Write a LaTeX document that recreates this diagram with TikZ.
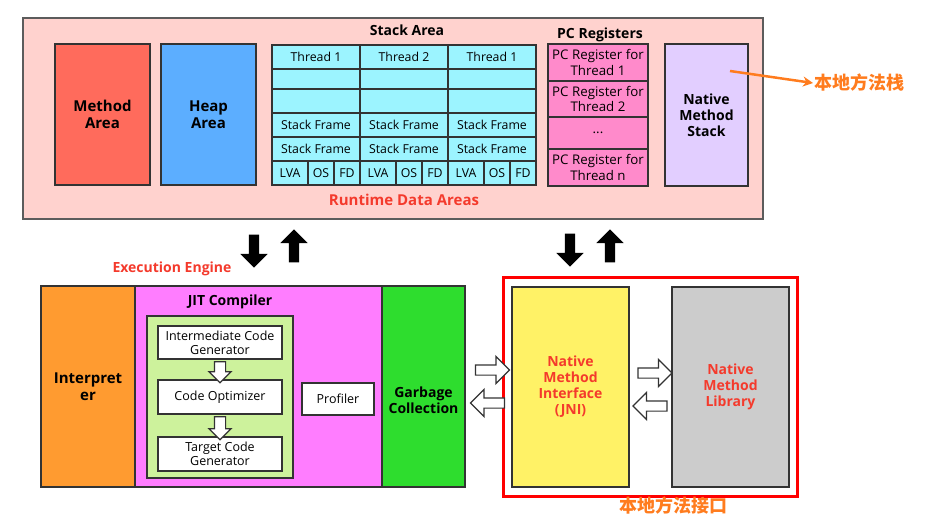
\documentclass[tikz,border=0pt]{standalone}
\usepackage{fontspec}
\setmainfont{Open Sans}
\newfontfamily\cjk{Noto Sans CJK SC}
\usepackage{tikz}
\usetikzlibrary{arrows.meta}
\usetikzlibrary{shapes.arrows}
\definecolor{rdabg}{HTML}{FFD2CE}
\definecolor{methodc}{HTML}{FF6B5C}
\definecolor{heapc}{HTML}{5CAEFF}
\definecolor{stkcyan}{HTML}{9CF4FF}
\definecolor{pcpink}{HTML}{FF8ACB}
\definecolor{nmsc}{HTML}{E2CEFF}
\definecolor{interc}{HTML}{FF9B30}
\definecolor{jitc}{HTML}{FF7DFF}
\definecolor{optgreen}{HTML}{CDF29C}
\definecolor{gcc}{HTML}{2EDD2E}
\definecolor{jnic}{HTML}{FFF266}
\definecolor{libc}{HTML}{CCCCCC}
\definecolor{redtxt}{HTML}{F43A2C}
\definecolor{orangetxt}{HTML}{FF7C1E}
\definecolor{edgec}{HTML}{333333}

\begin{document}
\begin{tikzpicture}[x=1pt,y=-1pt,inner sep=1pt]
\tikzstyle{blk}=[rectangle,draw=edgec,line width=1.5pt,align=center,font=\bfseries\fontsize{15}{17.5}\selectfont]
\tikzstyle{cell}=[rectangle,draw=edgec,line width=1.5pt,fill=stkcyan,inner sep=0pt,font=\fontsize{12.3}{13.5}\selectfont]
\tikzstyle{pcreg}=[cell,fill=pcpink,align=center,minimum width=100,font=\fontsize{13.3}{15.5}\selectfont]
\tikzstyle{wbox}=[rectangle,draw=edgec,line width=1.5pt,fill=white,align=center,font=\fontsize{12.5}{14}\selectfont]
\tikzstyle{ttl}=[font=\bfseries\fontsize{14}{16}\selectfont]
\tikzstyle{bigarr}=[single arrow,fill=black,inner sep=5pt,minimum height=33,single arrow head extend=8.5]
\tikzstyle{hollow}=[single arrow,draw=edgec,line width=1.2pt,fill=white,inner sep=4.5pt,minimum height=34,single arrow head extend=8.5]
\useasboundingbox (0,0) rectangle (950,528);

% runtime data areas
\node[blk,draw=edgec!80,fill=rdabg,minimum width=740,minimum height=201] (rda) at (393,118.5) {};
\node[blk,fill=methodc,minimum width=95,minimum height=141] (method) at (102.5,114.5) {Method\\Area};
\node[blk,fill=heapc,minimum width=95,minimum height=141] (heap) at (208.5,114.5) {Heap\\Area};
\node[ttl] (stktl) at (407,30) {Stack Area};
\foreach \c/\t in {0/Thread 1,1/Thread 2,2/Thread 1}{
  \pgfmathsetmacro\xc{316+88*\c}
  \node[cell,minimum width=88,minimum height=24] (thr\c) at (\xc,57) {\t};
  \node[cell,minimum width=88,minimum height=20] (ema\c) at (\xc,79) {};
  \node[cell,minimum width=88,minimum height=24] (emb\c) at (\xc,101) {};
  \node[cell,minimum width=88,minimum height=24] (sfa\c) at (\xc,125) {Stack Frame};
  \node[cell,minimum width=88,minimum height=24] (sfb\c) at (\xc,149) {Stack Frame};
  \node[cell,minimum width=36,minimum height=24] (lva\c) at (\xc-26,173) {LVA};
  \node[cell,minimum width=26,minimum height=24] (os\c) at (\xc+5,173) {OS};
  \node[cell,minimum width=26,minimum height=24] (fd\c) at (\xc+31,173) {FD};
}
\node[ttl,text=redtxt,font=\bfseries\fontsize{15}{17}\selectfont] (rdatl) at (404,200) {Runtime Data Areas};
\node[ttl] (pctl) at (600,35) {PC Registers};
\node[pcreg,minimum height=37] (pc1) at (598,62.5) {PC Register for\\Thread 1};
\node[pcreg,minimum height=36] (pc2) at (598,99) {PC Register for\\Thread 2};
\node[pcreg,minimum height=32] (pc3) at (598,133) {...};
\node[pcreg,minimum height=37] (pc4) at (598,167.5) {PC Register for\\Thread n};
\node[blk,fill=nmsc,font=\bfseries\fontsize{14}{16}\selectfont,minimum width=83,minimum height=142] (nms) at (706.5,115) {Native\\Method\\Stack};
\coordinate (nmsa) at (730,71);
\node[anchor=west,text=orangetxt,font=\cjk\bfseries\fontsize{18}{20}\selectfont] (bdfz) at (813,83) {本地方法栈};
\draw[orangetxt,line width=2.5pt,-{Stealth[length=10pt,width=10pt]}] (nmsa) -- (bdfz.west);

% up / down arrows
\node[bigarr,shape border rotate=270] (dn1) at (254,248.5) {};
\node[bigarr,shape border rotate=90] (up1) at (294,248.5) {};
\node[bigarr,shape border rotate=270] (dn2) at (570,247.5) {};
\node[bigarr,shape border rotate=90] (up2) at (610,248.5) {};

% execution engine
\node[ttl,text=redtxt] (eetl) at (172,269) {Execution Engine};
\node[blk,fill=interc,minimum width=94,minimum height=201] (interp) at (88,386.5) {Interpret\\er};
\node[blk,fill=jitc,minimum width=247,minimum height=201] (jit) at (258.5,386.5) {};
\node[blk,fill=gcc,minimum width=83,minimum height=201] (gc) at (423.5,386.5) {};
\node[align=center,font=\bfseries\fontsize{14}{16}\selectfont] (gctxt) at ([yshift=-14pt]gc.center) {Garbage\\Collection};
\node[ttl] (jittl) at (230,302) {JIT Compiler};
\node[blk,fill=optgreen,minimum width=146,minimum height=162] (opt) at (220,397) {};
\node[wbox,minimum width=124,minimum height=33] (icg) at (220,342.5) {Intermediate Code\\Generator};
\node[wbox,minimum width=124,minimum height=34] (co) at (220,397) {Code Optimizer};
\node[wbox,minimum width=124,minimum height=34] (tcg) at (220,454) {Target Code\\Generator};
\node[wbox,minimum width=72,minimum height=32] (prof) at (338,399) {Profiler};
\node[hollow,shape border rotate=270,inner sep=5pt,minimum height=21,single arrow head extend=5.5] (ar1) at (220,369.5) {};
\node[hollow,shape border rotate=270,inner sep=5pt,minimum height=23,single arrow head extend=5.5] (ar2) at (220,425.5) {};

% native interface
\node[rectangle,draw=red,line width=3pt,minimum width=294,minimum height=219] (jnibox) at (650,386.5) {};
\node[blk,fill=jnic,text=redtxt,font=\bfseries\fontsize{14}{16}\selectfont,minimum width=117,minimum height=200] (jni) at (570.5,387) {Native\\Method\\Interface\\(JNI)};
\node[blk,fill=libc,text=redtxt,font=\bfseries\fontsize{14}{16}\selectfont,minimum width=117,minimum height=200] (lib) at (730.5,387) {Native\\Method\\Library};
\node[hollow] (ha1) at (490,370) {};
\node[hollow,shape border rotate=180] (ha2) at (490,403) {};
\node[hollow] (ha3) at (652.5,373) {};
\node[hollow,shape border rotate=180] (ha4) at (652.5,406) {};
\node[text=orangetxt,font=\cjk\bfseries\fontsize{18}{20}\selectfont] (bdjk) at (673,506) {本地方法接口};
\end{tikzpicture}
\end{document}
